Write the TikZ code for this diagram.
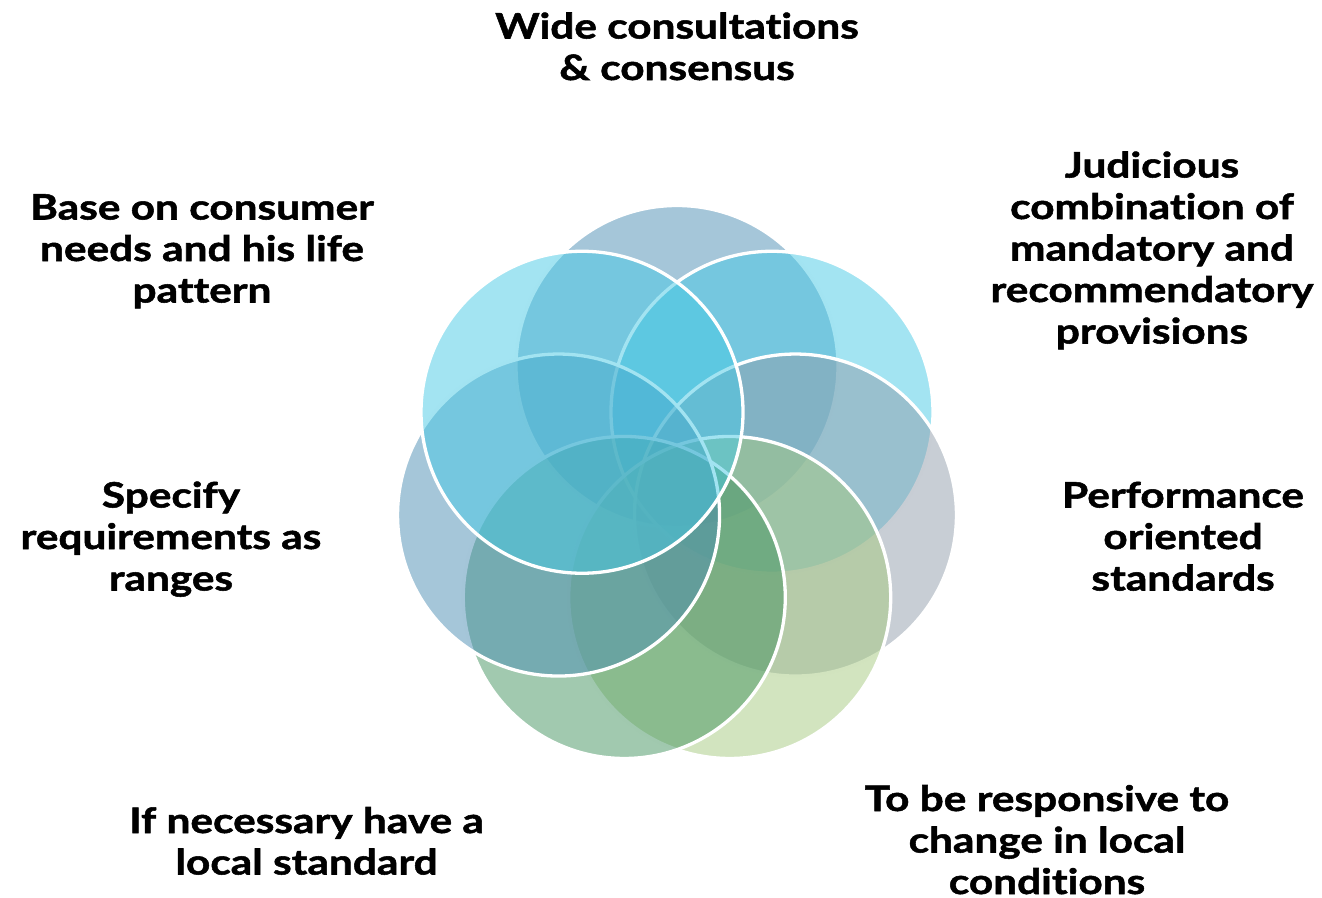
\documentclass[tikz,border=0pt]{standalone}
\usepackage{fontspec}
\setmainfont{Lato}
\newfontfamily\lblfont{Lato Bold}[FakeStretch=1.21, FakeBold=1.5, Ligatures=NoCommon]
\usetikzlibrary{calc}
\definecolor{cA}{HTML}{4B8DB3}
\definecolor{cB}{HTML}{47C9E5}
\definecolor{cC}{HTML}{919DAB}
\definecolor{cD}{HTML}{A5C97F}
\definecolor{cE}{HTML}{43935F}
\begin{document}
\begin{tikzpicture}[x=1pt,y=1pt,
  venn/.style={draw=white, line width=3.3pt, fill opacity=0.5},
  lbl/.style={anchor=base, inner sep=0pt, font=\fontsize{35}{41.5}\selectfont\lblfont}]
\useasboundingbox (0,0) rectangle (1322,-897);
\coordinate (ctr) at (677,-488);
\foreach \k/\col in {0/cA,1/cB,2/cC,3/cD,4/cE,5/cA,6/cB}{
  \path[venn, fill=\col] ($(ctr)+({90-\k*360/7}:121.5)$) circle[radius=161];
}
\node[lbl] (wide) at (677,-38.5) {\begin{tabular}[t]{@{}c@{}}Wide consultations\\ \& consensus\end{tabular}};
\node[lbl] (jud) at (1152,-177.5) {\begin{tabular}[t]{@{}c@{}}Judicious\\ combination of\\ mandatory and\\ recommendatory\\ provisions\end{tabular}};
\node[lbl] (perf) at (1183,-507.5) {\begin{tabular}[t]{@{}c@{}}Performance\\ oriented\\ standards\end{tabular}};
\node[lbl] (resp) at (1047,-811) {\begin{tabular}[t]{@{}c@{}}To be responsive to\\ change in local\\ conditions\end{tabular}};
\node[lbl] (local) at (306.5,-833) {\begin{tabular}[t]{@{}c@{}}If necessary have a\\ local standard\end{tabular}};
\node[lbl] (spec) at (171,-507.5) {\begin{tabular}[t]{@{}c@{}}Specify\\ requirements as\\ ranges\end{tabular}};
\node[lbl] (base) at (202,-219.5) {\begin{tabular}[t]{@{}c@{}}Base on consumer\\ needs and his life\\ pattern\end{tabular}};
\end{tikzpicture}
\end{document}
